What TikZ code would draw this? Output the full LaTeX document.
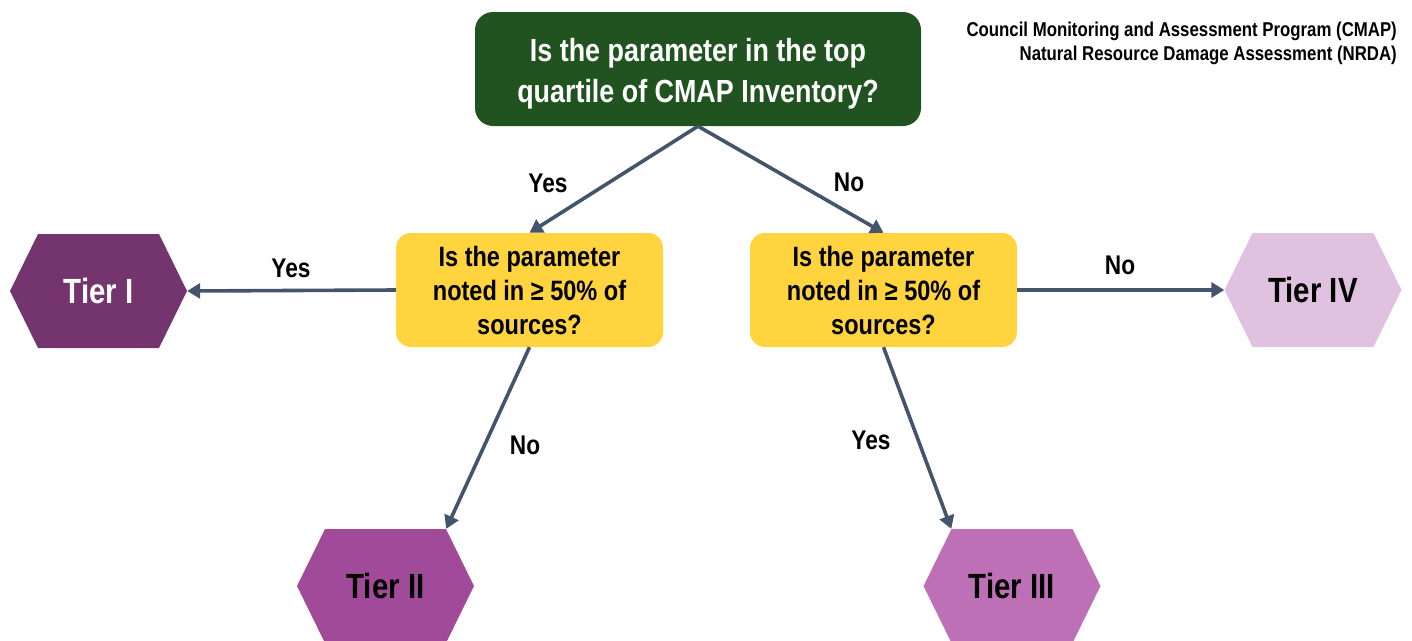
\documentclass[tikz,border=0pt]{standalone}
\usepackage{fontspec}
\setmainfont[FakeStretch=0.84]{Liberation Sans}
\usetikzlibrary{arrows.meta,calc}
\definecolor{topgreen}{HTML}{215321}
\definecolor{qyellow}{HTML}{FFD43F}
\definecolor{arrowgray}{HTML}{44546A}
\definecolor{tierone}{HTML}{74356F}
\definecolor{tiertwo}{HTML}{A24A9A}
\definecolor{tierthree}{HTML}{BE70B7}
\definecolor{tierfour}{HTML}{E1C1E0}
\tikzset{
  topbox/.style={fill=topgreen, rounded corners=18pt, minimum width=446pt, minimum height=114pt},
  toptext/.style={text=white, align=center, font=\bfseries\fontsize{32}{41}\selectfont},
  qbox/.style={fill=qyellow, rounded corners=15pt, minimum width=267pt, minimum height=114pt,
    align=center, font=\bfseries\fontsize{28}{34}\selectfont},
  tierhex/.style={minimum width=177pt, minimum height=114pt, inner sep=0pt,
    font=\bfseries\fontsize{35}{40}\selectfont,
    path picture={\fill[#1] (path picture bounding box.west)
      -- ([xshift=28pt]path picture bounding box.north west)
      -- ([xshift=-28pt]path picture bounding box.north east)
      -- (path picture bounding box.east)
      -- ([xshift=-28pt]path picture bounding box.south east)
      -- ([xshift=28pt]path picture bounding box.south west) -- cycle;}},
  arr/.style={draw=arrowgray, line width=3.6pt, -{Triangle[length=13pt,width=15pt]}},
  lbl/.style={font=\bfseries\fontsize{27}{30}\selectfont},
}
\begin{document}
\begin{tikzpicture}[x=1pt,y=-1pt]
\useasboundingbox (0,0) rectangle (1412,640);

% decision boxes
\node[topbox] (top) at (698,69) {};
\node[toptext] (toptxt) at (698,74) {Is the parameter in the top\\quartile of CMAP Inventory?};
\node[qbox] (q1) at (529.5,290) {Is the parameter\\noted in ≥ 50\% of\\sources?};
\node[qbox] (q2) at (883.5,290) {Is the parameter\\noted in ≥ 50\% of\\sources?};

% outcome tiers
\node[tierhex=tierone, text=white] (t1) at (98.5,291) {Tier I};
\node[tierhex=tiertwo] (t2) at (385.5,586) {Tier II};
\node[tierhex=tierthree] (t3) at (1012,586) {Tier III};
\node[tierhex=tierfour] (t4) at (1313,290) {Tier IV};

% header
\node[anchor=north east, align=right, inner sep=0pt, font=\bfseries\fontsize{20}{24}\selectfont] (hdr) at (1397,22)
  {Council Monitoring and Assessment Program (CMAP)\\Natural Resource Damage Assessment (NRDA)};

% connectors
\draw[arr] (top.south) -- (q1.north);
\draw[arr] (top.south) -- (q2.north);
\draw[arr] (q1.west) -- (t1.east);
\draw[arr] (q2.east) -- (t4.west);
\draw[arr] (q1.south) -- ([xshift=-28pt]t2.north east);
\draw[arr] (q2.south) -- ([xshift=28pt]t3.north west);

% connector labels
\node[lbl] (l1) at (548,183) {Yes};
\node[lbl] (l2) at (849,182) {No};
\node[lbl] (l3) at (291,268) {Yes};
\node[lbl] (l4) at (1120,265) {No};
\node[lbl] (l5) at (525,445) {No};
\node[lbl] (l6) at (871,440) {Yes};
\end{tikzpicture}
\end{document}
